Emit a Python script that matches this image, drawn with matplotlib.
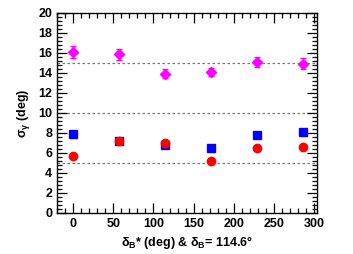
import matplotlib
matplotlib.use('Agg')
import matplotlib.pyplot as plt
from matplotlib.ticker import MultipleLocator

plt.rcParams['font.family'] = ['Liberation Sans', 'DejaVu Sans']
plt.rcParams['font.weight'] = 'bold'
plt.rcParams['mathtext.default'] = 'regular'

delta_b = [0, 57.3, 114.6, 171.9, 229.2, 286.5]
sigma_magenta = [16.1, 15.85, 13.93, 14.07, 15.07, 14.93]
err_magenta = [0.6, 0.55, 0.45, 0.4, 0.5, 0.55]
sigma_blue = [7.84, 7.14, 6.82, 6.44, 7.74, 8.12]
sigma_red = [5.64, 7.17, 6.94, 5.14, 6.52, 6.57]
ref_lines = [5, 10, 15]

fig = plt.figure(figsize=(3.53, 2.54), dpi=100)
ax = fig.add_axes([0.1615, 0.1626, 0.7355, 0.7864])

for y in ref_lines:
    ax.axhline(y, color='#777777', linestyle=(0, (2, 2)), linewidth=0.9, zorder=1)

ax.errorbar(delta_b, sigma_magenta, yerr=err_magenta, fmt='D', color='magenta',
            markersize=5, elinewidth=1, capsize=2, capthick=1, zorder=3)
ax.plot(delta_b, sigma_blue, 's', color='blue', markersize=6, zorder=3)
ax.plot(delta_b, sigma_red, 'o', color='red', markersize=6, zorder=4)

ax.set_xlim(-20, 303)
ax.set_ylim(0, 20)
ax.xaxis.set_major_locator(MultipleLocator(50))
ax.xaxis.set_minor_locator(MultipleLocator(10))
ax.yaxis.set_major_locator(MultipleLocator(2))
ax.yaxis.set_minor_locator(MultipleLocator(0.4))
ax.tick_params(which='both', direction='in', top=True, right=True, labelsize=9, width=0.9)
ax.tick_params(which='major', length=7)
ax.tick_params(which='minor', length=3.5)
for lab in ax.get_xticklabels() + ax.get_yticklabels():
    lab.set_fontweight('bold')
for s in ax.spines.values():
    s.set_linewidth(1)

ax.set_xlabel(r'$\delta_B$* (deg) & $\delta_B$= 114.6°', fontsize=9, fontweight='bold', labelpad=3)
ax.set_ylabel(r'$\sigma_\gamma$ (deg)', fontsize=9, fontweight='bold', labelpad=4)

fig.savefig('out.png', dpi=100)
